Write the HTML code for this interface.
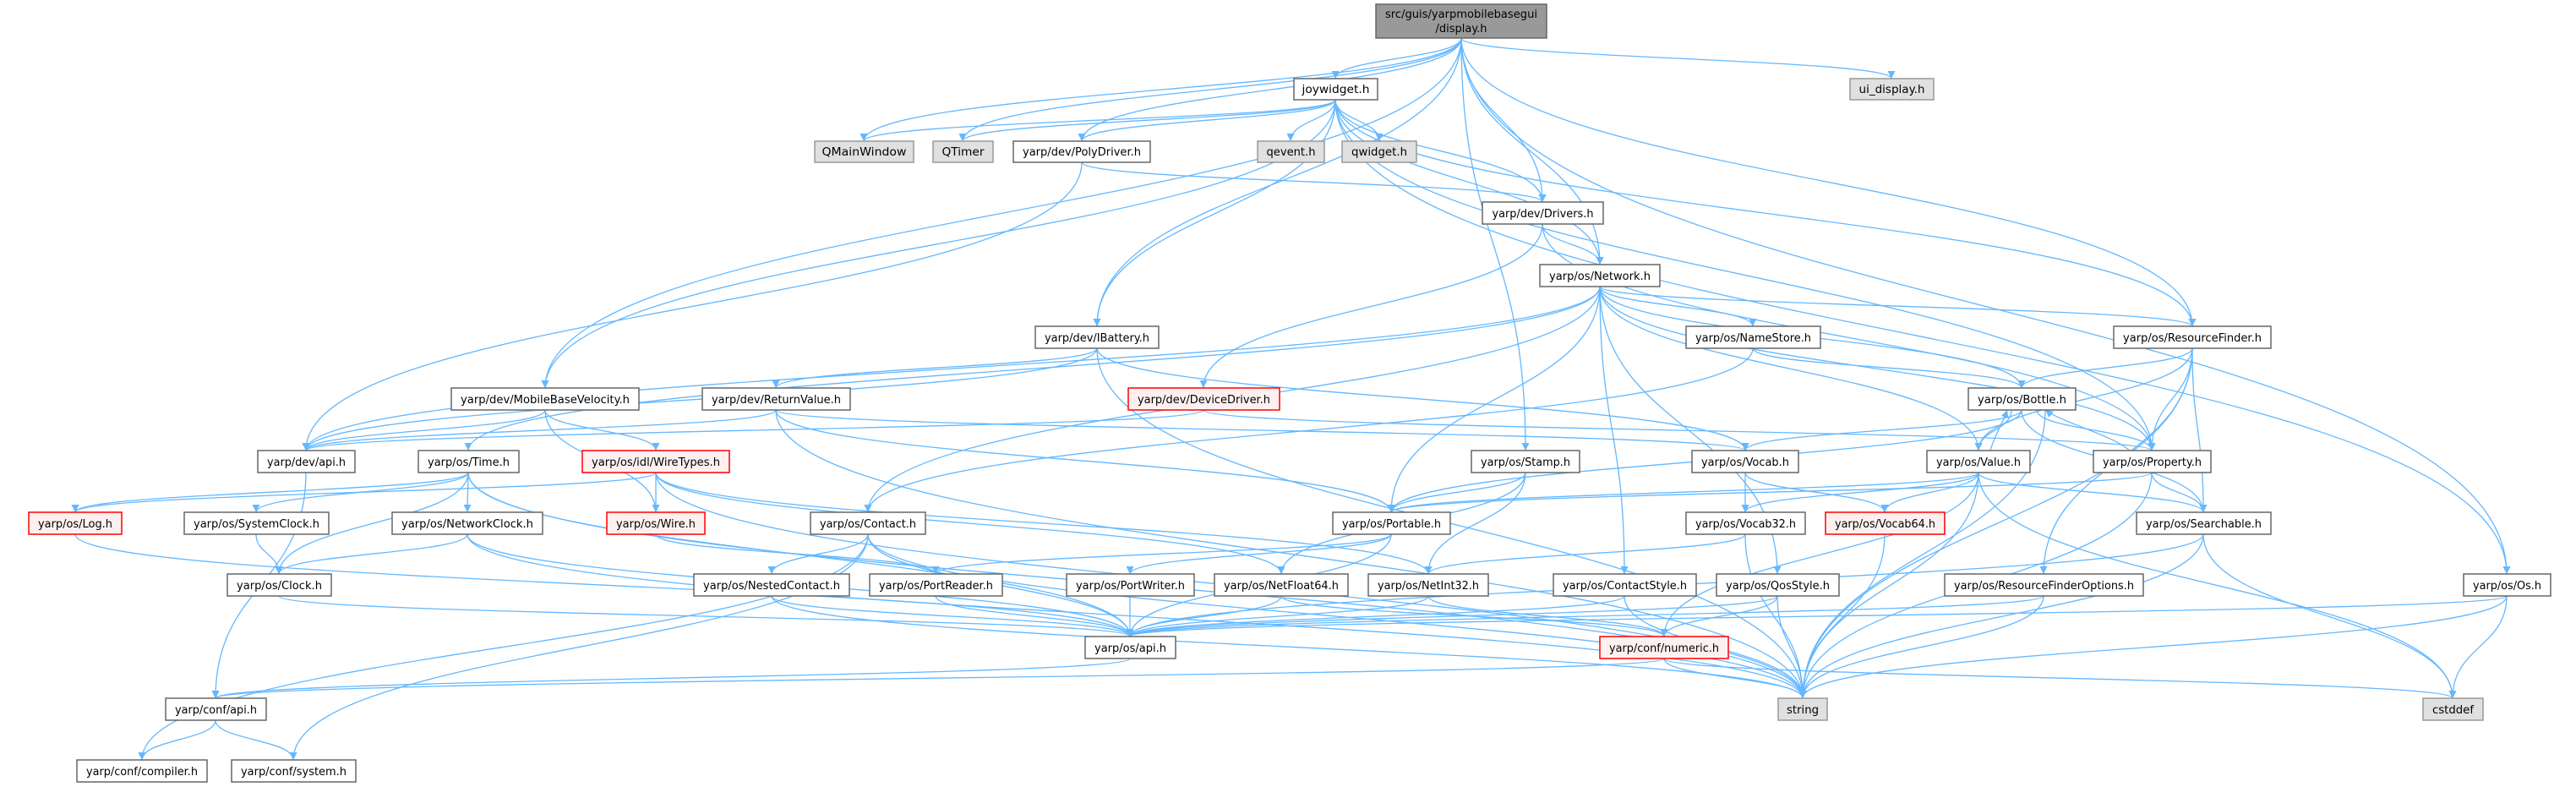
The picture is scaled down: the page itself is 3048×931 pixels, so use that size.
<!DOCTYPE html>
<html><head><meta charset="utf-8"><style>
html,body{margin:0;padding:0;background:#fff;}
svg{display:block;}
text{font-family:"DejaVu Sans","Liberation Sans",sans-serif;font-size:13px;fill:#000;}
.e{fill:none;stroke:#63b8ff;stroke-width:1.3;marker-end:url(#a);}
.n rect{fill:#fff;stroke:#666;stroke-width:1.5;}
.r rect{fill:#fff0f0;stroke:#f00;stroke-width:1.5;}
.g rect{fill:#e0e0e0;stroke:#999;stroke-width:1.5;}
</style></head><body>
<svg width="3048" height="931" viewBox="0 0 3048 931" xmlns="http://www.w3.org/2000/svg">
<defs><marker id="a" viewBox="0 0 10 10" refX="10" refY="5" markerWidth="9" markerHeight="9" markerUnits="userSpaceOnUse" orient="auto"><path d="M0,0 L10,5 L0,10 z" fill="#63b8ff"/></marker></defs>
<g>
<path class="e" d="M1729 45 C1729 69,1580 69,1580 93"/>
<path class="e" d="M1729 45 C1729 106,1022 106,1022 167"/>
<path class="e" d="M1729 45 C1729 106,1139 106,1139 167"/>
<path class="e" d="M1729 45 C1729 106,1280 106,1280 167"/>
<path class="e" d="M1729 45 C1729 142,1825 142,1825 239"/>
<path class="e" d="M1729 45 C1729 179,1893 179,1893 313"/>
<path class="e" d="M1729 45 C1729 215,1298 215,1298 386"/>
<path class="e" d="M1729 45 C1729 252,645 252,645 459"/>
<path class="e" d="M1729 45 C1729 215,2594 215,2594 386"/>
<path class="e" d="M1729 45 C1729 69,2238 69,2238 93"/>
<path class="e" d="M1729 45 C1729 362,2966 362,2966 679"/>
<path class="e" d="M1729 45 C1729 289,1805 289,1805 533"/>
<path class="e" d="M1580 118 C1580 142,1022 142,1022 167"/>
<path class="e" d="M1580 118 C1580 142,1139 142,1139 167"/>
<path class="e" d="M1580 118 C1580 142,1280 142,1280 167"/>
<path class="e" d="M1580 118 C1580 142,1527 142,1527 167"/>
<path class="e" d="M1580 118 C1580 142,1632 142,1632 167"/>
<path class="e" d="M1580 118 C1580 178,1825 178,1825 239"/>
<path class="e" d="M1580 118 C1580 215,1893 215,1893 313"/>
<path class="e" d="M1580 118 C1580 252,1298 252,1298 386"/>
<path class="e" d="M1580 118 C1580 288,645 288,645 459"/>
<path class="e" d="M1580 118 C1580 252,2594 252,2594 386"/>
<path class="e" d="M1580 118 C1580 325,2546 325,2546 533"/>
<path class="e" d="M1580 118 C1580 398,2966 398,2966 679"/>
<path class="e" d="M1280 192 C1280 215,1825 215,1825 239"/>
<path class="e" d="M1280 192 C1280 362,362 362,362 533"/>
<path class="e" d="M1825 265 C1825 289,1893 289,1893 313"/>
<path class="e" d="M1825 265 C1825 362,1424 362,1424 459"/>
<path class="e" d="M1825 265 C1825 399,2546 399,2546 533"/>
<path class="e" d="M1893 339 C1893 362,2074 362,2074 386"/>
<path class="e" d="M1893 339 C1893 472,1027 472,1027 606"/>
<path class="e" d="M1893 339 C1893 472,1646 472,1646 606"/>
<path class="e" d="M1893 339 C1893 509,1922 509,1922 679"/>
<path class="e" d="M1893 339 C1893 509,2103 509,2103 679"/>
<path class="e" d="M1893 339 C1893 436,2341 436,2341 533"/>
<path class="e" d="M1893 339 C1893 436,2546 436,2546 533"/>
<path class="e" d="M1893 339 C1893 436,554 436,554 533"/>
<path class="e" d="M1893 339 C1893 436,362 436,362 533"/>
<path class="e" d="M1893 339 C1893 399,2392 399,2392 459"/>
<path class="e" d="M1893 339 C1893 362,2594 362,2594 386"/>
<path class="e" d="M1298 412 C1298 472,362 472,362 533"/>
<path class="e" d="M1298 412 C1298 435,918 435,918 459"/>
<path class="e" d="M1298 412 C1298 472,2065 472,2065 533"/>
<path class="e" d="M1298 412 C1298 619,2133 619,2133 826"/>
<path class="e" d="M645 485 C645 509,362 509,362 533"/>
<path class="e" d="M645 485 C645 509,776 509,776 533"/>
<path class="e" d="M645 485 C645 545,776 545,776 606"/>
<path class="e" d="M918 485 C918 509,362 509,362 533"/>
<path class="e" d="M918 485 C918 545,1646 545,1646 606"/>
<path class="e" d="M918 485 C918 509,2065 509,2065 533"/>
<path class="e" d="M918 485 C918 655,2133 655,2133 826"/>
<path class="e" d="M1424 485 C1424 509,362 509,362 533"/>
<path class="e" d="M1424 485 C1424 509,2546 509,2546 533"/>
<path class="e" d="M2074 412 C2074 509,1027 509,1027 606"/>
<path class="e" d="M2074 412 C2074 435,2392 435,2392 459"/>
<path class="e" d="M2594 412 C2594 435,2392 435,2392 459"/>
<path class="e" d="M2594 412 C2594 472,2546 472,2546 533"/>
<path class="e" d="M2594 412 C2594 472,2341 472,2341 533"/>
<path class="e" d="M2594 412 C2594 509,2607 509,2607 606"/>
<path class="e" d="M2594 412 C2594 545,2418 545,2418 679"/>
<path class="e" d="M2594 412 C2594 619,2133 619,2133 826"/>
<path class="e" d="M2392 485 C2392 509,2065 509,2065 533"/>
<path class="e" d="M2380 485 C2380 509,2341 509,2341 533"/>
<path class="e" d="M2410 485 C2410 509,2546 509,2546 533"/>
<path class="e" d="M2392 485 C2392 545,2607 545,2607 606"/>
<path class="e" d="M2392 485 C2392 545,1646 545,1646 606"/>
<path class="e" d="M2420 485 C2420 655,2133 655,2133 826"/>
<path class="e" d="M2355 533 C2360 515,2370 500,2375 485"/>
<path class="e" d="M2341 559 C2341 582,2065 582,2065 606"/>
<path class="e" d="M2341 559 C2341 582,2230 582,2230 606"/>
<path class="e" d="M2341 559 C2341 582,2607 582,2607 606"/>
<path class="e" d="M2341 559 C2341 582,1646 582,1646 606"/>
<path class="e" d="M2341 559 C2341 656,1969 656,1969 753"/>
<path class="e" d="M2341 559 C2341 692,2133 692,2133 826"/>
<path class="e" d="M2341 559 C2341 692,2902 692,2902 826"/>
<path class="e" d="M2520 533 C2500 515,2440 500,2420 485"/>
<path class="e" d="M2546 559 C2546 582,2607 582,2607 606"/>
<path class="e" d="M2546 559 C2546 582,1646 582,1646 606"/>
<path class="e" d="M2546 559 C2546 692,2133 692,2133 826"/>
<path class="e" d="M2065 559 C2065 582,2065 582,2065 606"/>
<path class="e" d="M2065 559 C2065 582,2230 582,2230 606"/>
<path class="e" d="M2065 632 C2065 655,1690 655,1690 679"/>
<path class="e" d="M2065 632 C2065 729,2133 729,2133 826"/>
<path class="e" d="M2230 632 C2230 729,2133 729,2133 826"/>
<path class="e" d="M2607 632 C2607 692,1337 692,1337 753"/>
<path class="e" d="M2607 632 C2607 729,2133 729,2133 826"/>
<path class="e" d="M2607 632 C2607 729,2902 729,2902 826"/>
<path class="e" d="M362 559 C362 692,255 692,255 826"/>
<path class="e" d="M554 559 C554 582,89 582,89 606"/>
<path class="e" d="M554 559 C554 582,303 582,303 606"/>
<path class="e" d="M554 559 C554 582,553 582,553 606"/>
<path class="e" d="M554 559 C554 619,330 619,330 679"/>
<path class="e" d="M554 559 C554 692,2133 692,2133 826"/>
<path class="e" d="M554 559 C554 656,1337 656,1337 753"/>
<path class="e" d="M776 559 C776 582,89 582,89 606"/>
<path class="e" d="M776 559 C776 582,776 582,776 606"/>
<path class="e" d="M776 559 C776 619,1516 619,1516 679"/>
<path class="e" d="M776 559 C776 619,1690 619,1690 679"/>
<path class="e" d="M776 559 C776 692,2133 692,2133 826"/>
<path class="e" d="M89 632 C89 692,1337 692,1337 753"/>
<path class="e" d="M303 632 C303 655,330 655,330 679"/>
<path class="e" d="M553 632 C553 655,330 655,330 679"/>
<path class="e" d="M553 632 C553 692,1337 692,1337 753"/>
<path class="e" d="M553 632 C553 729,2133 729,2133 826"/>
<path class="e" d="M776 632 C776 655,1107 655,1107 679"/>
<path class="e" d="M1027 632 C1027 655,913 655,913 679"/>
<path class="e" d="M1027 632 C1027 692,1337 692,1337 753"/>
<path class="e" d="M1027 632 C1027 729,2133 729,2133 826"/>
<path class="e" d="M1027 632 C1027 765,168 765,168 899"/>
<path class="e" d="M1027 632 C1027 765,347 765,347 899"/>
<path class="e" d="M330 705 C330 729,1337 729,1337 753"/>
<path class="e" d="M913 705 C913 729,1337 729,1337 753"/>
<path class="e" d="M913 705 C913 765,2133 765,2133 826"/>
<path class="e" d="M1805 559 C1805 582,1646 582,1646 606"/>
<path class="e" d="M1805 559 C1805 619,1690 619,1690 679"/>
<path class="e" d="M1805 559 C1805 619,1516 619,1516 679"/>
<path class="e" d="M1646 632 C1646 655,1107 655,1107 679"/>
<path class="e" d="M1646 632 C1646 655,1337 655,1337 679"/>
<path class="e" d="M1646 632 C1646 692,1337 692,1337 753"/>
<path class="e" d="M1107 705 C1107 729,1337 729,1337 753"/>
<path class="e" d="M1337 705 C1337 729,1337 729,1337 753"/>
<path class="e" d="M1516 705 C1516 729,1337 729,1337 753"/>
<path class="e" d="M1516 705 C1516 729,1969 729,1969 753"/>
<path class="e" d="M1690 705 C1690 729,1337 729,1337 753"/>
<path class="e" d="M1690 705 C1690 729,1969 729,1969 753"/>
<path class="e" d="M1922 705 C1922 729,1337 729,1337 753"/>
<path class="e" d="M1922 705 C1922 765,2133 765,2133 826"/>
<path class="e" d="M2103 705 C2103 729,1337 729,1337 753"/>
<path class="e" d="M2103 705 C2103 729,1969 729,1969 753"/>
<path class="e" d="M2103 705 C2103 765,2133 765,2133 826"/>
<path class="e" d="M2418 705 C2418 729,1337 729,1337 753"/>
<path class="e" d="M2418 705 C2418 765,2133 765,2133 826"/>
<path class="e" d="M2966 705 C2966 729,1337 729,1337 753"/>
<path class="e" d="M2966 705 C2966 765,2133 765,2133 826"/>
<path class="e" d="M2966 705 C2966 765,2902 765,2902 826"/>
<path class="e" d="M1337 779 C1337 802,255 802,255 826"/>
<path class="e" d="M1969 779 C1969 802,255 802,255 826"/>
<path class="e" d="M1969 779 C1969 802,2133 802,2133 826"/>
<path class="e" d="M1969 779 C1969 802,2902 802,2902 826"/>
<path class="e" d="M255 852 C255 875,168 875,168 899"/>
<path class="e" d="M255 852 C255 875,347 875,347 899"/>
</g>
<g>
<g><rect x="1628" y="5" width="202" height="40" fill="#999" stroke="#666" stroke-width="1.5"/><text x="1729" y="21" text-anchor="middle" textLength="180" lengthAdjust="spacingAndGlyphs">src/guis/yarpmobilebasegui</text><text x="1729" y="38" text-anchor="middle">/display.h</text></g>
</g>
<g font-size="13">
<g class="n"><rect x="1531" y="93" width="99" height="25"/><text x="1580.5" y="110" text-anchor="middle" textLength="80" lengthAdjust="spacingAndGlyphs">joywidget.h</text></g>
<g class="g"><rect x="964" y="167" width="117" height="25"/><text x="1022.5" y="184" text-anchor="middle" textLength="100" lengthAdjust="spacingAndGlyphs">QMainWindow</text></g>
<g class="g"><rect x="1104" y="167" width="71" height="25"/><text x="1139.5" y="184" text-anchor="middle" textLength="50" lengthAdjust="spacingAndGlyphs">QTimer</text></g>
<g class="n"><rect x="1199" y="167" width="162" height="25"/><text x="1280" y="184" text-anchor="middle" textLength="140" lengthAdjust="spacingAndGlyphs">yarp/dev/PolyDriver.h</text></g>
<g class="g"><rect x="1488" y="167" width="79" height="25"/><text x="1527.5" y="184" text-anchor="middle" textLength="58" lengthAdjust="spacingAndGlyphs">qevent.h</text></g>
<g class="g"><rect x="1588" y="167" width="88" height="25"/><text x="1632" y="184" text-anchor="middle" textLength="66" lengthAdjust="spacingAndGlyphs">qwidget.h</text></g>
<g class="g"><rect x="2189" y="93" width="99" height="25"/><text x="2238.5" y="110" text-anchor="middle" textLength="78" lengthAdjust="spacingAndGlyphs">ui_display.h</text></g>
<g class="n"><rect x="1754" y="239" width="143" height="26"/><text x="1825.5" y="257" text-anchor="middle" textLength="120" lengthAdjust="spacingAndGlyphs">yarp/dev/Drivers.h</text></g>
<g class="n"><rect x="1822" y="313" width="142" height="26"/><text x="1893" y="331" text-anchor="middle" textLength="120" lengthAdjust="spacingAndGlyphs">yarp/os/Network.h</text></g>
<g class="n"><rect x="1225" y="386" width="146" height="26"/><text x="1298" y="404" text-anchor="middle" textLength="124" lengthAdjust="spacingAndGlyphs">yarp/dev/IBattery.h</text></g>
<g class="n"><rect x="1995" y="386" width="159" height="26"/><text x="2074.5" y="404" text-anchor="middle" textLength="137" lengthAdjust="spacingAndGlyphs">yarp/os/NameStore.h</text></g>
<g class="n"><rect x="2501" y="386" width="186" height="26"/><text x="2594" y="404" text-anchor="middle" textLength="164" lengthAdjust="spacingAndGlyphs">yarp/os/ResourceFinder.h</text></g>
<g class="n"><rect x="534" y="459" width="222" height="26"/><text x="645" y="477" text-anchor="middle" textLength="200" lengthAdjust="spacingAndGlyphs">yarp/dev/MobileBaseVelocity.h</text></g>
<g class="n"><rect x="831" y="459" width="175" height="26"/><text x="918.5" y="477" text-anchor="middle" textLength="153" lengthAdjust="spacingAndGlyphs">yarp/dev/ReturnValue.h</text></g>
<g class="r"><rect x="1335" y="459" width="179" height="26"/><text x="1424.5" y="477" text-anchor="middle" textLength="157" lengthAdjust="spacingAndGlyphs">yarp/dev/DeviceDriver.h</text></g>
<g class="n"><rect x="2329" y="459" width="127" height="26"/><text x="2392.5" y="477" text-anchor="middle" textLength="105" lengthAdjust="spacingAndGlyphs">yarp/os/Bottle.h</text></g>
<g class="n"><rect x="305" y="533" width="115" height="26"/><text x="362.5" y="551" text-anchor="middle" textLength="93" lengthAdjust="spacingAndGlyphs">yarp/dev/api.h</text></g>
<g class="n"><rect x="495" y="533" width="119" height="26"/><text x="554.5" y="551" text-anchor="middle" textLength="97" lengthAdjust="spacingAndGlyphs">yarp/os/Time.h</text></g>
<g class="r"><rect x="689" y="533" width="174" height="26"/><text x="776" y="551" text-anchor="middle" textLength="152" lengthAdjust="spacingAndGlyphs">yarp/os/idl/WireTypes.h</text></g>
<g class="n"><rect x="1741" y="533" width="128" height="26"/><text x="1805" y="551" text-anchor="middle" textLength="106" lengthAdjust="spacingAndGlyphs">yarp/os/Stamp.h</text></g>
<g class="n"><rect x="2002" y="533" width="126" height="26"/><text x="2065" y="551" text-anchor="middle" textLength="104" lengthAdjust="spacingAndGlyphs">yarp/os/Vocab.h</text></g>
<g class="n"><rect x="2280" y="533" width="122" height="26"/><text x="2341" y="551" text-anchor="middle" textLength="100" lengthAdjust="spacingAndGlyphs">yarp/os/Value.h</text></g>
<g class="n"><rect x="2477" y="533" width="139" height="26"/><text x="2546.5" y="551" text-anchor="middle" textLength="117" lengthAdjust="spacingAndGlyphs">yarp/os/Property.h</text></g>
<g class="r"><rect x="34" y="606" width="110" height="26"/><text x="89" y="624" text-anchor="middle" textLength="88" lengthAdjust="spacingAndGlyphs">yarp/os/Log.h</text></g>
<g class="n"><rect x="218" y="606" width="171" height="26"/><text x="303.5" y="624" text-anchor="middle" textLength="149" lengthAdjust="spacingAndGlyphs">yarp/os/SystemClock.h</text></g>
<g class="n"><rect x="464" y="606" width="178" height="26"/><text x="553" y="624" text-anchor="middle" textLength="156" lengthAdjust="spacingAndGlyphs">yarp/os/NetworkClock.h</text></g>
<g class="r"><rect x="718" y="606" width="116" height="26"/><text x="776" y="624" text-anchor="middle" textLength="94" lengthAdjust="spacingAndGlyphs">yarp/os/Wire.h</text></g>
<g class="n"><rect x="959" y="606" width="136" height="26"/><text x="1027" y="624" text-anchor="middle" textLength="114" lengthAdjust="spacingAndGlyphs">yarp/os/Contact.h</text></g>
<g class="n"><rect x="1577" y="606" width="139" height="26"/><text x="1646.5" y="624" text-anchor="middle" textLength="117" lengthAdjust="spacingAndGlyphs">yarp/os/Portable.h</text></g>
<g class="n"><rect x="1995" y="606" width="141" height="26"/><text x="2065.5" y="624" text-anchor="middle" textLength="119" lengthAdjust="spacingAndGlyphs">yarp/os/Vocab32.h</text></g>
<g class="r"><rect x="2160" y="606" width="141" height="26"/><text x="2230.5" y="624" text-anchor="middle" textLength="119" lengthAdjust="spacingAndGlyphs">yarp/os/Vocab64.h</text></g>
<g class="n"><rect x="2528" y="606" width="159" height="26"/><text x="2607.5" y="624" text-anchor="middle" textLength="137" lengthAdjust="spacingAndGlyphs">yarp/os/Searchable.h</text></g>
<g class="n"><rect x="269" y="679" width="123" height="26"/><text x="330.5" y="697" text-anchor="middle" textLength="101" lengthAdjust="spacingAndGlyphs">yarp/os/Clock.h</text></g>
<g class="n"><rect x="821" y="679" width="184" height="26"/><text x="913" y="697" text-anchor="middle" textLength="162" lengthAdjust="spacingAndGlyphs">yarp/os/NestedContact.h</text></g>
<g class="n"><rect x="1029" y="679" width="157" height="26"/><text x="1107.5" y="697" text-anchor="middle" textLength="135" lengthAdjust="spacingAndGlyphs">yarp/os/PortReader.h</text></g>
<g class="n"><rect x="1262" y="679" width="151" height="26"/><text x="1337.5" y="697" text-anchor="middle" textLength="129" lengthAdjust="spacingAndGlyphs">yarp/os/PortWriter.h</text></g>
<g class="n"><rect x="1437" y="679" width="158" height="26"/><text x="1516" y="697" text-anchor="middle" textLength="136" lengthAdjust="spacingAndGlyphs">yarp/os/NetFloat64.h</text></g>
<g class="n"><rect x="1619" y="679" width="142" height="26"/><text x="1690" y="697" text-anchor="middle" textLength="120" lengthAdjust="spacingAndGlyphs">yarp/os/NetInt32.h</text></g>
<g class="n"><rect x="1838" y="679" width="169" height="26"/><text x="1922.5" y="697" text-anchor="middle" textLength="147" lengthAdjust="spacingAndGlyphs">yarp/os/ContactStyle.h</text></g>
<g class="n"><rect x="2031" y="679" width="145" height="26"/><text x="2103.5" y="697" text-anchor="middle" textLength="123" lengthAdjust="spacingAndGlyphs">yarp/os/QosStyle.h</text></g>
<g class="n"><rect x="2301" y="679" width="235" height="26"/><text x="2418.5" y="697" text-anchor="middle" textLength="213" lengthAdjust="spacingAndGlyphs">yarp/os/ResourceFinderOptions.h</text></g>
<g class="n"><rect x="2915" y="679" width="103" height="26"/><text x="2966.5" y="697" text-anchor="middle" textLength="81" lengthAdjust="spacingAndGlyphs">yarp/os/Os.h</text></g>
<g class="n"><rect x="1284" y="753" width="107" height="26"/><text x="1337.5" y="771" text-anchor="middle" textLength="85" lengthAdjust="spacingAndGlyphs">yarp/os/api.h</text></g>
<g class="r"><rect x="1893" y="753" width="152" height="26"/><text x="1969" y="771" text-anchor="middle" textLength="130" lengthAdjust="spacingAndGlyphs">yarp/conf/numeric.h</text></g>
<g class="n"><rect x="196" y="826" width="119" height="26"/><text x="255.5" y="844" text-anchor="middle" textLength="97" lengthAdjust="spacingAndGlyphs">yarp/conf/api.h</text></g>
<g class="g"><rect x="2104" y="826" width="58" height="26"/><text x="2133" y="844" text-anchor="middle" textLength="38" lengthAdjust="spacingAndGlyphs">string</text></g>
<g class="g"><rect x="2867" y="826" width="71" height="26"/><text x="2902.5" y="844" text-anchor="middle" textLength="49" lengthAdjust="spacingAndGlyphs">cstddef</text></g>
<g class="n"><rect x="91" y="899" width="154" height="26"/><text x="168" y="917" text-anchor="middle" textLength="132" lengthAdjust="spacingAndGlyphs">yarp/conf/compiler.h</text></g>
<g class="n"><rect x="274" y="899" width="147" height="26"/><text x="347.5" y="917" text-anchor="middle" textLength="125" lengthAdjust="spacingAndGlyphs">yarp/conf/system.h</text></g>
</g>
</svg>
</body></html>
